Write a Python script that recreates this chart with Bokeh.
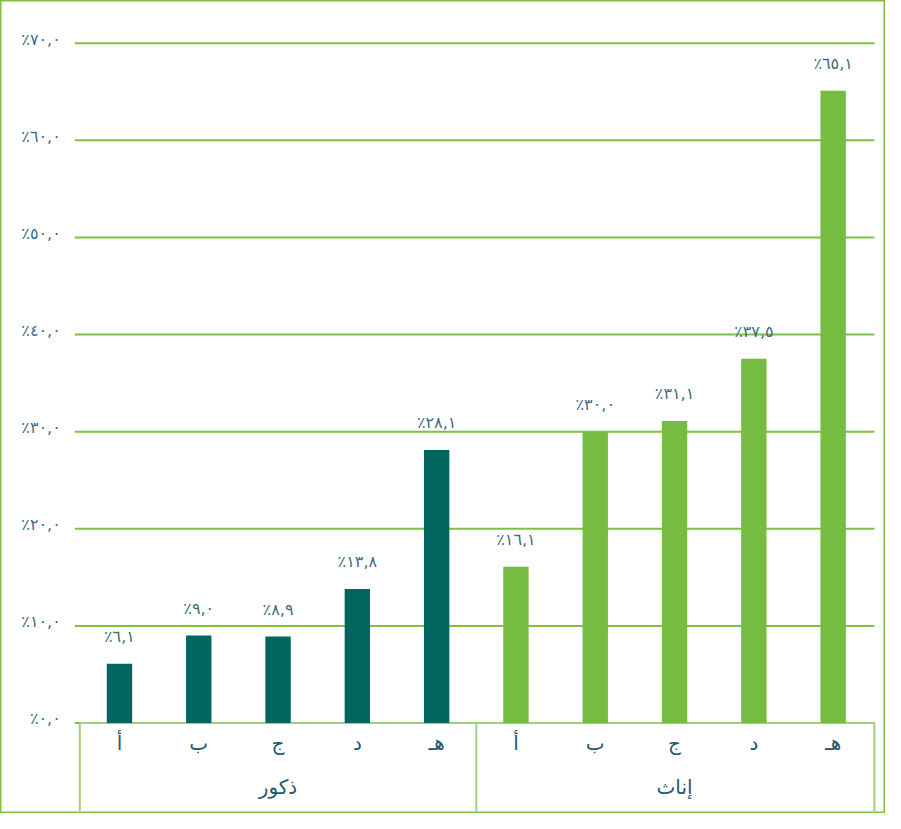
from bokeh.plotting import figure
from bokeh.models import ColumnDataSource, Range1d
from bokeh.core.properties import value
from bokeh.embed import file_html
from bokeh.resources import INLINE

# ---- data ----
groups = ["ذكور", "إناث"]
letters = ["أ", "ب", "ج", "د", "هـ"]
male_values = [6.1, 9.0, 8.9, 13.8, 28.1]
female_values = [16.1, 30.0, 31.1, 37.5, 65.1]
male_labels = ["٪٦,١", "٪٩,٠", "٪٨,٩", "٪١٣,٨", "٪٢٨,١"]
female_labels = ["٪١٦,١", "٪٣٠,٠", "٪٣١,١", "٪٣٧,٥", "٪٦٥,١"]
y_ticks = [0, 10, 20, 30, 40, 50, 60, 70]
y_tick_labels = ["٪٠,٠", "٪١٠,٠", "٪٢٠,٠", "٪٣٠,٠", "٪٤٠,٠", "٪٥٠,٠", "٪٦٠,٠", "٪٧٠,٠"]

# ---- styling ----
MALE = "#00665f"
FEMALE = "#76bc43"
GRID = "#7cc242"
BOX = "#9fd07c"
TXT = "#3a6c88"
DARK = "#1f5a70"
FONT = value("DejaVu Sans")

n = len(letters)
male_x = list(range(n))
female_x = [n + i for i in range(n)]

p = figure(width=885, height=813, output_backend="svg", toolbar_location=None,
           x_range=Range1d(-1.50, 9.66), y_range=Range1d(-9.32, 74.4),
           min_border=0, min_border_left=0, min_border_right=0,
           min_border_top=0, min_border_bottom=0)
p.xaxis.visible = False
p.yaxis.visible = False
p.xgrid.visible = False
p.ygrid.visible = False
p.outline_line_color = GRID
p.outline_line_width = 2
p.background_fill_color = "white"
p.border_fill_color = "white"

# gridlines (from tick values)
p.segment(x0=[-0.563] * len(y_ticks), x1=[9.52] * len(y_ticks), y0=y_ticks, y1=y_ticks,
          line_color=GRID, line_width=2)

# tick labels
p.text(x=[-0.74] * len(y_ticks), y=y_ticks, text=y_tick_labels,
       text_align="right", text_baseline="middle", text_font=FONT,
       text_font_size="16px", text_color=TXT, y_offset=-4)

# category box
p.segment(x0=[-0.5], x1=[9.52], y0=[0], y1=[0], line_color=BOX, line_width=2)
p.segment(x0=[-0.5, 4.5, 9.52], x1=[-0.5, 4.5, 9.52], y0=[0, 0, 0], y1=[-9.4, -9.4, -9.4],
          line_color=BOX, line_width=2)

# bars
ms = ColumnDataSource(dict(x=male_x, top=male_values, lab=male_labels, cat=letters))
fs = ColumnDataSource(dict(x=female_x, top=female_values, lab=female_labels, cat=letters))
p.vbar(x="x", top="top", bottom=0, width=0.32, source=ms, fill_color=MALE, line_color=None)
p.vbar(x="x", top="top", bottom=0, width=0.32, source=fs, fill_color=FEMALE, line_color=None)

# value labels
for src in (ms, fs):
    p.text(x="x", y="top", text="lab", source=src, text_align="center",
           text_baseline="bottom", y_offset=-18, text_font=FONT,
           text_font_size="16px", text_color=TXT)
    p.text(x="x", y=-2.1, text="cat", source=src, text_align="center",
           text_baseline="middle", text_font=FONT, text_font_size="20px",
           text_color=DARK)

# group labels
group_x = [sum(male_x) / n, sum(female_x) / n]
p.text(x=group_x, y=[-6.6, -6.6], text=groups, text_align="center",
       text_baseline="middle", text_font=FONT, text_font_size="20px",
       text_color=DARK)

open("out.html", "w").write(file_html(p, INLINE))
